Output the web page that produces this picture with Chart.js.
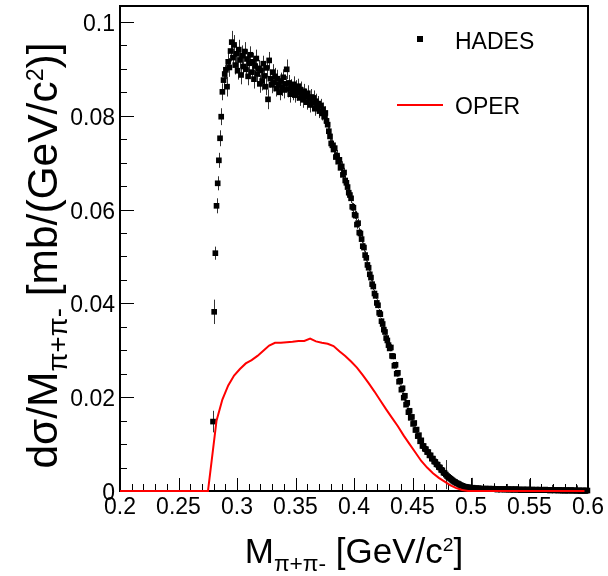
<!DOCTYPE html>
<html>
<head>
<meta charset="utf-8">
<script src="https://cdn.jsdelivr.net/npm/chart.js@4.4.1/dist/chart.umd.min.js"></script>
<style>
  html, body { margin: 0; padding: 0; background: #fff; }
</style>
</head>
<body>
<canvas id="c" width="608" height="576"></canvas>
<script>
// pi+ pi- invariant mass spectrum, 1 MeV/c^2 bins starting at 0.279
const hadesBinLow = 0.279;
const hadesBinWidth = 0.001;
const hadesValues = [
  0.0148, 0.0382, 0.0507, 0.0608, 0.0656, 0.0705, 0.0752, 0.0798, 0.0851, 0.0876,
  0.0889, 0.0898, 0.0862, 0.0915, 0.0903, 0.0938, 0.0957, 0.0924, 0.0951, 0.0908,
  0.0932, 0.0896, 0.0941, 0.0919, 0.0887, 0.0928, 0.0905, 0.0937, 0.0899, 0.0921,
  0.0884, 0.0912, 0.0930, 0.0893, 0.0915, 0.0878, 0.0906, 0.0922, 0.0889, 0.0901,
  0.0868, 0.0897, 0.0874, 0.0911, 0.0885, 0.0862, 0.0902, 0.0835, 0.0918, 0.0879,
  0.0866, 0.0893, 0.0871, 0.0884, 0.0858, 0.0879, 0.0866, 0.0850, 0.0874, 0.0861,
  0.0882, 0.0855, 0.0868, 0.0899, 0.0857, 0.0870, 0.0846, 0.0862, 0.0851, 0.0867,
  0.0844, 0.0858, 0.0849, 0.0863, 0.0838, 0.0855, 0.0846, 0.0834, 0.0852, 0.0841,
  0.0829, 0.0848, 0.0836, 0.0823, 0.0840, 0.0827, 0.0838, 0.0815, 0.0831, 0.0819,
  0.0826, 0.0810, 0.0822, 0.0805, 0.0814, 0.0798, 0.0806, 0.0789, 0.0781, 0.0767,
  0.0756, 0.0741, 0.0737, 0.0728, 0.0731, 0.0712, 0.0715, 0.0702, 0.0706, 0.0689,
  0.0692, 0.0674, 0.0679, 0.0662, 0.0657, 0.0648, 0.0636, 0.0631, 0.0624, 0.0606,
  0.0604, 0.0589, 0.0587, 0.0568, 0.0571, 0.0551, 0.0549, 0.0537, 0.0522, 0.0519,
  0.0503, 0.0497, 0.0482, 0.0476, 0.0462, 0.0455, 0.0441, 0.0436, 0.0421, 0.0416,
  0.0401, 0.0396, 0.0380, 0.0377, 0.0362, 0.0356, 0.0344, 0.0339, 0.0326, 0.0321,
  0.0311, 0.0304, 0.0306, 0.0288, 0.0287, 0.0267, 0.0269, 0.0250, 0.0252, 0.0233,
  0.0235, 0.0216, 0.0219, 0.0199, 0.0203, 0.0184, 0.0188, 0.0168, 0.0171, 0.0156,
  0.0158, 0.0143, 0.0145, 0.0130, 0.0131, 0.0117, 0.0119, 0.0106, 0.0108, 0.0096,
  0.0096, 0.0090, 0.0089, 0.0083, 0.0083, 0.0076, 0.0076, 0.0069, 0.0069, 0.0063,
  0.0062, 0.0057, 0.0056, 0.0051, 0.0050, 0.0045, 0.0044, 0.0039, 0.0038, 0.0035,
  0.0032, 0.0030, 0.0028, 0.0026, 0.0024, 0.0022, 0.0020, 0.0019, 0.0017, 0.0016,
  0.0015, 0.0013, 0.0012, 0.0011, 0.0010, 0.0009, 0.0009, 0.0008, 0.0008, 0.0007,
  0.0007, 0.0006, 0.0007, 0.0006, 0.0005, 0.0006, 0.0005, 0.0006, 0.0005, 0.0005,
  0.0004, 0.0005, 0.0004, 0.0005, 0.0005, 0.0004, 0.0005, 0.0004, 0.0004, 0.0005,
  0.0004, 0.0004, 0.0004, 0.0003, 0.0004, 0.0004, 0.0003, 0.0004, 0.0004, 0.0003,
  0.0004, 0.0003, 0.0004, 0.0003, 0.0003, 0.0004, 0.0003, 0.0003, 0.0003, 0.0004,
  0.0003, 0.0003, 0.0003, 0.0002, 0.0003, 0.0003, 0.0003, 0.0002, 0.0003, 0.0003,
  0.0002, 0.0003, 0.0002, 0.0003, 0.0002, 0.0002, 0.0003, 0.0002, 0.0002, 0.0003,
  0.0002, 0.0002, 0.0002, 0.0002, 0.0003, 0.0002, 0.0002, 0.0002, 0.0001, 0.0002,
  0.0002, 0.0002, 0.0001, 0.0002, 0.0002, 0.0001, 0.0002, 0.0001, 0.0002, 0.0001,
  0.0001, 0.0001, 0.0002, 0.0001, 0.0001, 0.0001, 0.0002, 0.0001, 0.0001, 0.0001,
  0.0001, 0.0001, 0.0001, 0.0001, 0.0000, 0.0001, 0.0001, 0.0001, 0.0000, 0.0001,
  0.0001
];
const hadesErrors = [
  0.0023, 0.0026, 0.0014, 0.0016, 0.0015, 0.0016, 0.0017, 0.0018, 0.0018, 0.0019,
  0.0019, 0.0020, 0.0021, 0.0019, 0.0020, 0.0022, 0.0024, 0.0019, 0.0021, 0.0020,
  0.0020, 0.0019, 0.0021, 0.0018, 0.0020, 0.0022, 0.0019, 0.0020, 0.0018, 0.0021,
  0.0019, 0.0020, 0.0018, 0.0021, 0.0019, 0.0020, 0.0018, 0.0019, 0.0021, 0.0018,
  0.0019, 0.0018, 0.0020, 0.0017, 0.0019, 0.0018, 0.0020, 0.0021, 0.0018, 0.0019,
  0.0018, 0.0017, 0.0019, 0.0018, 0.0017, 0.0019, 0.0018, 0.0017, 0.0018, 0.0019,
  0.0017, 0.0018, 0.0017, 0.0021, 0.0018, 0.0017, 0.0018, 0.0016, 0.0018, 0.0017,
  0.0016, 0.0018, 0.0017, 0.0016, 0.0017, 0.0018, 0.0016, 0.0017, 0.0016, 0.0017,
  0.0016, 0.0017, 0.0015, 0.0016, 0.0017, 0.0015, 0.0016, 0.0015, 0.0016, 0.0015,
  0.0016, 0.0015, 0.0014, 0.0015, 0.0014, 0.0015, 0.0014, 0.0013, 0.0014, 0.0013,
  0.0013, 0.0012, 0.0013, 0.0012, 0.0012, 0.0011, 0.0012, 0.0011, 0.0011, 0.0012,
  0.0011, 0.0011, 0.0010, 0.0011, 0.0010, 0.0010, 0.0011, 0.0010, 0.0010, 0.0009,
  0.0010, 0.0009, 0.0010, 0.0009, 0.0009, 0.0010, 0.0009, 0.0009, 0.0008, 0.0009,
  0.0009, 0.0008, 0.0009, 0.0008, 0.0008, 0.0008, 0.0009, 0.0008, 0.0008, 0.0007,
  0.0008, 0.0007, 0.0008, 0.0007, 0.0007, 0.0008, 0.0007, 0.0007, 0.0007, 0.0006,
  0.0007, 0.0006, 0.0007, 0.0006, 0.0006, 0.0006, 0.0007, 0.0006, 0.0006, 0.0006,
  0.0006, 0.0005, 0.0006, 0.0005, 0.0006, 0.0005, 0.0005, 0.0006, 0.0005, 0.0005,
  0.0005, 0.0005, 0.0004, 0.0005, 0.0005, 0.0004, 0.0005, 0.0004, 0.0004, 0.0005,
  0.0004, 0.0004, 0.0004, 0.0004, 0.0004, 0.0004, 0.0004, 0.0004, 0.0004, 0.0004,
  0.0004, 0.0004, 0.0003, 0.0004, 0.0003, 0.0003, 0.0003, 0.0003, 0.0003, 0.0031,
  0.0003, 0.0003, 0.0003, 0.0003, 0.0003, 0.0003, 0.0003, 0.0003, 0.0003, 0.0003,
  0.0003, 0.0003, 0.0003, 0.0003, 0.0003, 0.0003, 0.0003, 0.0003, 0.0003, 0.0003,
  0.0003, 0.0022, 0.0003, 0.0003, 0.0003, 0.0003, 0.0003, 0.0003, 0.0003, 0.0003,
  0.0003, 0.0003, 0.0003, 0.0003, 0.0003, 0.0003, 0.0003, 0.0003, 0.0003, 0.0003,
  0.0013, 0.0003, 0.0003, 0.0003, 0.0003, 0.0003, 0.0003, 0.0003, 0.0003, 0.0003,
  0.0003, 0.0012, 0.0003, 0.0003, 0.0003, 0.0003, 0.0003, 0.0003, 0.0003, 0.0003,
  0.0003, 0.0010, 0.0003, 0.0003, 0.0003, 0.0003, 0.0003, 0.0003, 0.0003, 0.0003,
  0.0023, 0.0003, 0.0003, 0.0003, 0.0003, 0.0003, 0.0003, 0.0003, 0.0003, 0.0003,
  0.0011, 0.0002, 0.0002, 0.0002, 0.0002, 0.0002, 0.0002, 0.0002, 0.0002, 0.0002,
  0.0011, 0.0002, 0.0002, 0.0002, 0.0002, 0.0002, 0.0002, 0.0002, 0.0002, 0.0002,
  0.0002, 0.0011, 0.0002, 0.0002, 0.0002, 0.0002, 0.0002, 0.0002, 0.0002, 0.0002,
  0.0002, 0.0011, 0.0002, 0.0002, 0.0002, 0.0002, 0.0002, 0.0002, 0.0002, 0.0002,
  0.0002
];

// OPER model curve
const operMass = [
  0.200, 0.2752, 0.2825, 0.2875, 0.2925, 0.2975, 0.3025, 0.3075, 0.3125, 0.3175,
  0.3225, 0.3275, 0.3325, 0.3375, 0.3425, 0.3475, 0.3525, 0.3575, 0.3625, 0.3675,
  0.3725, 0.3775, 0.3825, 0.3875, 0.3925, 0.3975, 0.4025, 0.4075, 0.4125, 0.4175,
  0.4225, 0.4275, 0.4325, 0.4375, 0.4425, 0.4475, 0.4525, 0.4575, 0.4625, 0.4675,
  0.4725, 0.4775, 0.4825, 0.4875, 0.4925, 0.4975, 0.597
];
const operValues = [
  0, 0, 0.0150, 0.0195, 0.0225, 0.0246, 0.0260, 0.0272, 0.0279, 0.0288,
  0.0299, 0.0310, 0.0316, 0.0316, 0.0317, 0.0318, 0.0320, 0.0320, 0.0325, 0.0319,
  0.0316, 0.0314, 0.0309, 0.0298, 0.0288, 0.0276, 0.0263, 0.0247, 0.0230, 0.0212,
  0.0193, 0.0174, 0.0156, 0.0138, 0.0118, 0.0100, 0.0082, 0.0064, 0.0050, 0.0038,
  0.0028, 0.0020, 0.0012, 0.0006, 0.0002, 0, 0
];

const xTicks = [0.2, 0.25, 0.3, 0.35, 0.4, 0.45, 0.5, 0.55, 0.6];
const xTickLabels = ['0.2', '0.25', '0.3', '0.35', '0.4', '0.45', '0.5', '0.55', '0.6'];
const yTicks = [0, 0.02, 0.04, 0.06, 0.08, 0.1];
const yTickLabels = ['0', '0.02', '0.04', '0.06', '0.08', '0.1'];

const FONT = '"Liberation Sans", Arial, Helvetica, sans-serif';

// text pieces: [string, 0 normal | 1 subscript | 2 superscript]
const xTitle = [['M', 0], ['\u03c0+\u03c0-', 1], [' [GeV/c', 0], ['2', 2], [']', 0]];
const yTitle = [['d\u03c3/M', 0], ['\u03c0+\u03c0-', 1], [' [mb/(GeV/c', 0], ['2', 2], [')]', 0]];

function drawRich(ctx, parts, size, cx, baseY) {
  const fontOf = k => (k === 0 ? size : k === 1 ? size * 0.65 : size * 0.55) + 'px ' + FONT;
  const widths = parts.map(([t, k]) => { ctx.font = fontOf(k); return ctx.measureText(t).width; });
  let x = cx - widths.reduce((a, b) => a + b, 0) / 2;
  ctx.textAlign = 'left';
  ctx.textBaseline = 'alphabetic';
  parts.forEach(([t, k], i) => {
    ctx.font = fontOf(k);
    const dy = k === 1 ? size * 0.24 : k === 2 ? -size * 0.33 : 0;
    ctx.fillText(t, x, baseY + dy);
    x += widths[i];
  });
}

const rootFrame = {
  id: 'rootFrame',
  beforeDatasetsDraw(chart) {
    const { ctx, chartArea: a } = chart;
    const xs = chart.scales.x, ys = chart.scales.y;
    ctx.save();
    // error bars
    ctx.strokeStyle = '#333';
    ctx.lineWidth = 1;
    hadesValues.forEach((v, i) => {
      const px = Math.round(xs.getPixelForValue(hadesBinLow + (i + 0.5) * hadesBinWidth)) + 0.5;
      ctx.beginPath();
      ctx.moveTo(px, ys.getPixelForValue(Math.max(0, v - hadesErrors[i])));
      ctx.lineTo(px, ys.getPixelForValue(v + hadesErrors[i]));
      ctx.stroke();
    });
    // ticks inside the frame
    ctx.strokeStyle = '#000';
    ctx.beginPath();
    for (let v = 0.2; v <= 0.6001; v += 0.01) {
      const px = Math.round(xs.getPixelForValue(v)) + 0.5;
      const major = xTicks.some(t => Math.abs(t - v) < 1e-6);
      ctx.moveTo(px, a.bottom);
      ctx.lineTo(px, a.bottom - (major ? 13 : 7));
    }
    for (let v = 0; v <= 0.1001; v += 0.005) {
      const py = Math.round(ys.getPixelForValue(v)) + 0.5;
      const major = yTicks.some(t => Math.abs(t - v) < 1e-6);
      ctx.moveTo(a.left, py);
      ctx.lineTo(a.left + (major ? 14 : 7), py);
    }
    ctx.stroke();
    // frame
    ctx.lineWidth = 2;
    ctx.strokeRect(a.left, a.top, a.right - a.left, a.bottom - a.top);
    ctx.restore();
  },
  afterDraw(chart) {
    const { ctx, chartArea: a } = chart;
    const xs = chart.scales.x, ys = chart.scales.y;
    ctx.save();
    ctx.fillStyle = '#000';
    ctx.font = '23px ' + FONT;
    ctx.textAlign = 'center';
    ctx.textBaseline = 'alphabetic';
    xTicks.forEach((v, i) => ctx.fillText(xTickLabels[i], xs.getPixelForValue(v), a.bottom + 23));
    ctx.textAlign = 'right';
    yTicks.forEach((v, i) => ctx.fillText(yTickLabels[i], a.left - 5, ys.getPixelForValue(v) + 9));

    drawRich(ctx, xTitle, 35, (a.left + a.right) / 2, 563);
    ctx.save();
    ctx.translate(57, (a.top + a.bottom) / 2 + 7);
    ctx.rotate(-Math.PI / 2);
    drawRich(ctx, yTitle, 42.5, 0, 0);
    ctx.restore();

    // legend
    ctx.fillRect(417, 36, 6, 6);
    ctx.strokeStyle = '#ff0000';
    ctx.lineWidth = 2;
    ctx.beginPath();
    ctx.moveTo(397, 105);
    ctx.lineTo(443, 105);
    ctx.stroke();
    ctx.font = '23px ' + FONT;
    ctx.textAlign = 'left';
    ctx.fillText('HADES', 455, 49);
    ctx.fillText('OPER', 455, 114);
    ctx.restore();
  }
};

new Chart(document.getElementById('c'), {
  type: 'scatter',
  data: {
    datasets: [
      {
        label: 'OPER',
        data: operMass.map((m, i) => ({ x: m, y: operValues[i] })),
        showLine: true,
        borderColor: '#ff0000',
        borderWidth: 2,
        pointRadius: 0,
        fill: false,
        clip: false
      },
      {
        label: 'HADES',
        data: hadesValues.map((v, i) => ({ x: hadesBinLow + (i + 0.5) * hadesBinWidth, y: v })),
        showLine: false,
        pointStyle: 'rect',
        pointRadius: 4,
        pointBackgroundColor: '#000',
        pointBorderWidth: 0,
        clip: false
      }
    ]
  },
  options: {
    responsive: false,
    animation: false,
    events: [],
    layout: { padding: { left: 120, top: 6, right: 20, bottom: 85 } },
    scales: {
      x: { type: 'linear', min: 0.2, max: 0.6, display: false },
      y: { type: 'linear', min: 0, max: 0.1034, display: false }
    },
    plugins: { legend: { display: false }, tooltip: { enabled: false } }
  },
  plugins: [rootFrame]
});
</script>
</body>
</html>
